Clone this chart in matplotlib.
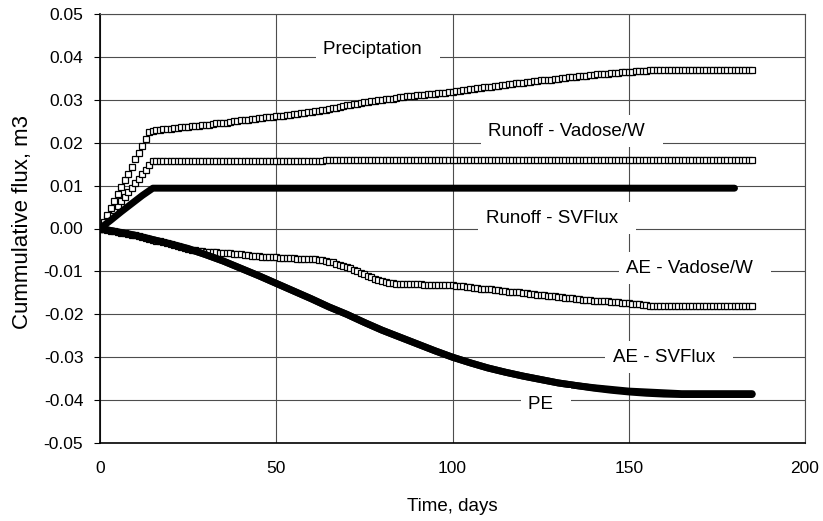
import matplotlib
matplotlib.use('Agg')
import matplotlib.pyplot as plt
import numpy as np

plt.rcParams['font.family'] = ['Liberation Sans', 'DejaVu Sans']
plt.rcParams['axes.unicode_minus'] = False

# Daily cumulative values, day 0 .. 185
days = np.arange(186)

precip = [0.0000, 0.0016, 0.0032, 0.0048, 0.0064, 0.0080, 0.0096, 0.0112, 0.0128, 0.0144,
          0.0161, 0.0177, 0.0193, 0.0209, 0.0225,
          0.0228, 0.0229, 0.0230, 0.0231, 0.0232,
          0.0233, 0.0234, 0.0234, 0.0236, 0.0236, 0.0237, 0.0238, 0.0238, 0.0240, 0.0241,
          0.0242, 0.0242, 0.0243, 0.0245, 0.0245, 0.0247, 0.0247, 0.0249, 0.0250, 0.0251,
          0.0252, 0.0252, 0.0254, 0.0255, 0.0255, 0.0257, 0.0258, 0.0259, 0.0260, 0.0261,
          0.0262, 0.0262, 0.0263, 0.0264, 0.0265, 0.0266, 0.0267, 0.0269, 0.0270, 0.0271,
          0.0272, 0.0273, 0.0275, 0.0276, 0.0277, 0.0278, 0.0280, 0.0282, 0.0284, 0.0285,
          0.0287, 0.0288, 0.0290, 0.0291, 0.0293, 0.0294, 0.0295, 0.0297, 0.0298, 0.0299,
          0.0300, 0.0301, 0.0302, 0.0303, 0.0305, 0.0306, 0.0307, 0.0308, 0.0309, 0.0310,
          0.0311, 0.0311, 0.0312, 0.0313, 0.0313, 0.0314, 0.0315, 0.0316, 0.0317, 0.0318,
          0.0319, 0.0320, 0.0321, 0.0322, 0.0324, 0.0325, 0.0326, 0.0327, 0.0328, 0.0329,
          0.0330, 0.0331, 0.0332, 0.0333, 0.0334, 0.0335, 0.0336, 0.0337, 0.0338, 0.0339,
          0.0340, 0.0341, 0.0342, 0.0343, 0.0344, 0.0345, 0.0346, 0.0347, 0.0347, 0.0348,
          0.0349, 0.0350, 0.0351, 0.0352, 0.0353, 0.0354, 0.0355, 0.0356, 0.0356, 0.0357,
          0.0358, 0.0359, 0.0359, 0.0360, 0.0361, 0.0362, 0.0362, 0.0363, 0.0364, 0.0364,
          0.0365, 0.0365, 0.0366, 0.0367, 0.0367, 0.0368, 0.0369, 0.0369, 0.0370, 0.0370] \
         + [0.0370] * 26

runoff_vw = [0.0000, 0.0011, 0.0021, 0.0032, 0.0042, 0.0053, 0.0063, 0.0074, 0.0084, 0.0095,
             0.0105, 0.0116, 0.0126, 0.0137, 0.0147, 0.0158] \
            + [0.0158] * 48 + [0.0160] * 122

ae_vw = [0.0000, -0.0002, -0.0003, -0.0005, -0.0006, -0.0008, -0.0010, -0.0011, -0.0013, -0.0014,
         -0.0016, -0.0018, -0.0020, -0.0022, -0.0024, -0.0026, -0.0028, -0.0030, -0.0032, -0.0034,
         -0.0036, -0.0038, -0.0040, -0.0043, -0.0045, -0.0047, -0.0049, -0.0051, -0.0052, -0.0053,
         -0.0054, -0.0055, -0.0055, -0.0055, -0.0056, -0.0056, -0.0057, -0.0058, -0.0059, -0.0059,
         -0.0060, -0.0061, -0.0062, -0.0063, -0.0064, -0.0065, -0.0066, -0.0066, -0.0067, -0.0067,
         -0.0067, -0.0068, -0.0068, -0.0069, -0.0069, -0.0069, -0.0070, -0.0070, -0.0071, -0.0071,
         -0.0071, -0.0072, -0.0073, -0.0074, -0.0076, -0.0078, -0.0079, -0.0082, -0.0085, -0.0088,
         -0.0090, -0.0093, -0.0097, -0.0100, -0.0104, -0.0107, -0.0111, -0.0114, -0.0117, -0.0120,
         -0.0122, -0.0125, -0.0127, -0.0128, -0.0129, -0.0129, -0.0129, -0.0130, -0.0130, -0.0130,
         -0.0130, -0.0130, -0.0131, -0.0131, -0.0131, -0.0131, -0.0131, -0.0131, -0.0132, -0.0132,
         -0.0132, -0.0133, -0.0134, -0.0135, -0.0136, -0.0137, -0.0138, -0.0139, -0.0140, -0.0140,
         -0.0141, -0.0142, -0.0143, -0.0144, -0.0145, -0.0146, -0.0147, -0.0148, -0.0149, -0.0149,
         -0.0150, -0.0151, -0.0152, -0.0153, -0.0154, -0.0155, -0.0156, -0.0157, -0.0157, -0.0158,
         -0.0159, -0.0160, -0.0161, -0.0162, -0.0163, -0.0164, -0.0165, -0.0166, -0.0166, -0.0167,
         -0.0168, -0.0168, -0.0169, -0.0170, -0.0170, -0.0171, -0.0172, -0.0172, -0.0173, -0.0173,
         -0.0174, -0.0175, -0.0176, -0.0177, -0.0178, -0.0179, -0.0180, -0.0181, -0.0181, -0.0181] \
        + [-0.0181] * 26

# SVFlux results (dense diamonds in the original, drawn as thick lines)
runoff_sv_days = [0, 3, 6, 9, 12, 15, 180]
runoff_sv = [0.0000, 0.0019, 0.0039, 0.0058, 0.0077, 0.0094, 0.0094]

sv_days = [0, 5, 10, 15, 20, 25, 30, 35, 40, 45, 50, 55, 60, 65, 70, 75, 80, 85, 90, 95,
           100, 105, 110, 115, 120, 125, 130, 135, 140, 145, 150, 155, 160, 165, 170, 175, 180, 185]
ae_sv = [0.0000, -0.0008, -0.0016, -0.0026, -0.0036, -0.0047, -0.0061, -0.0076, -0.0093, -0.0110,
         -0.0128, -0.0146, -0.0164, -0.0183, -0.0200, -0.0219, -0.0237, -0.0253, -0.0269, -0.0285,
         -0.0300, -0.0313, -0.0325, -0.0335, -0.0344, -0.0352, -0.0360, -0.0366, -0.0371, -0.0375,
         -0.0379, -0.0381, -0.0383, -0.0385, -0.0385, -0.0385, -0.0385, -0.0385]
pe = [0.0000, -0.0008, -0.0016, -0.0026, -0.0036, -0.0047, -0.0061, -0.0076, -0.0093, -0.0110,
      -0.0128, -0.0146, -0.0164, -0.0183, -0.0200, -0.0219, -0.0237, -0.0253, -0.0269, -0.0285,
      -0.0300, -0.0313, -0.0325, -0.0335, -0.0344, -0.0352, -0.0360, -0.0366, -0.0372, -0.0377,
      -0.0381, -0.0384, -0.0386, -0.0387, -0.0387, -0.0387, -0.0387, -0.0387]

series_labels = ['Preciptation', 'Runoff - Vadose/W', 'Runoff - SVFlux',
                 'AE - Vadose/W', 'AE - SVFlux', 'PE']

yticks = [-0.05, -0.04, -0.03, -0.02, -0.01, 0.0, 0.01, 0.02, 0.03, 0.04, 0.05]
ytick_labels = ['-0.05', '-0.04', '-0.03', '-0.02', '-0.01', '0.00',
                '0.01', '0.02', '0.03', '0.04', '0.05']
xticks = [0, 50, 100, 150, 200]

### Plot ###

fig = plt.figure(figsize=(8.23, 5.21), dpi=100)
ax = fig.add_axes([100/823, 78/521, 705/823, 429/521])

# open square series
sq = dict(linestyle='none', marker='s', markersize=3.8, markerfacecolor='white',
          markeredgecolor='black', markeredgewidth=0.9, zorder=2)
ax.plot(days, ae_vw, **sq)
ax.plot(days, runoff_vw, **sq)
ax.plot(days, precip, **sq)

# thick SVFlux curves, drawn over the squares
thick = dict(linestyle='-', color='black', lw=5, solid_capstyle='round', zorder=3)
ax.plot(runoff_sv_days, runoff_sv, **thick)
ax.plot(sv_days, pe, **thick)
ax.plot(sv_days, ae_sv, **thick)

# in-plot labels (white box a bit wider on the right, as in the original)
label_pos = [(78.8, 0.0418), (133.9, 0.0227), (129.7, 0.0024),
             (168.8, -0.0093), (161.5, -0.0300), (126.5, -0.0410)]
for txt, (lx, ly) in zip(series_labels, label_pos):
    ax.text(lx, ly, txt + '  ', ha='center', va='center', fontsize=13.5, zorder=4,
            bbox=dict(boxstyle='square,pad=0.4', fc='white', ec='none'))

ax.set_xlim(0, 200)
ax.set_ylim(-0.05, 0.05)
ax.set_xticks(xticks)
ax.set_yticks(yticks)
ax.set_yticklabels(ytick_labels)

ax.set_axisbelow(True)
ax.grid(True, color='0.3', lw=0.8)
for s in ['top', 'right']:
    ax.spines[s].set_color('0.3')
    ax.spines[s].set_linewidth(0.8)
for s in ['left', 'bottom']:
    ax.spines[s].set_linewidth(1.2)

ax.tick_params(axis='x', length=0, pad=13, labelsize=12.5)
ax.tick_params(axis='y', length=4, width=0.8, pad=8, labelsize=12.5)

ax.set_xlabel('Time, days', fontsize=13.5)
ax.set_ylabel('Cummulative flux, m3', fontsize=16)
ax.xaxis.set_label_coords(0.5, -0.128)
ax.yaxis.set_label_coords(-0.095, 0.515)

plt.savefig('out.png', dpi=100)
